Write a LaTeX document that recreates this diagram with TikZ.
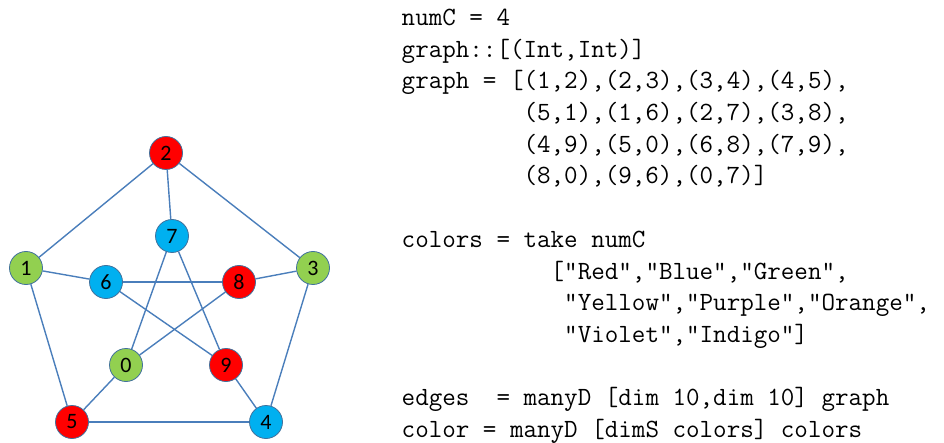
\documentclass[tikz,border=0pt]{standalone}
\usepackage{fontspec}
\newfontfamily\nodefont{Carlito}
\definecolor{edgeblue}{HTML}{4A7EBB}
\definecolor{nodeline}{HTML}{41719C}
\definecolor{vred}{HTML}{FF0000}
\definecolor{vblue}{HTML}{00B0F0}
\definecolor{vgreen}{HTML}{92D050}
\tikzset{
  vtx/.style={circle,draw=nodeline,line width=0.8pt,minimum size=33pt,inner sep=0pt,font=\nodefont\fontsize{22}{26}\selectfont},
  rv/.style={vtx,fill=vred},
  bv/.style={vtx,fill=vblue},
  gv/.style={vtx,fill=vgreen},
  edge/.style={draw=edgeblue,line width=1.4pt},
  codeline/.style={anchor=base west,inner sep=0pt,font=\ttfamily\fontsize{26.3}{31.7}\selectfont}
}
\begin{document}
\begin{tikzpicture}[x=1pt,y=-1pt]
\useasboundingbox (0,0) rectangle (944,443);
% vertices
\node[rv] (n2) at (166,153) {2};
\node[bv] (n7) at (172,236) {7};
\node[gv] (n1) at (26,268) {1};
\node[bv] (n6) at (106,282) {6};
\node[rv] (n8) at (239,282) {8};
\node[gv] (n3) at (313,268) {3};
\node[gv] (n0) at (126,365) {0};
\node[rv] (n9) at (226,365) {9};
\node[rv] (n5) at (72,422) {5};
\node[bv] (n4) at (266,422) {4};
% edges
\draw[edge] (n1) -- (n2);
\draw[edge] (n2) -- (n3);
\draw[edge] (n3) -- (n4);
\draw[edge] (n4) -- (n5);
\draw[edge] (n5) -- (n1);
\draw[edge] (n1) -- (n6);
\draw[edge] (n2) -- (n7);
\draw[edge] (n3) -- (n8);
\draw[edge] (n4) -- (n9);
\draw[edge] (n5) -- (n0);
\draw[edge] (n6) -- (n8);
\draw[edge] (n7) -- (n9);
\draw[edge] (n8) -- (n0);
\draw[edge] (n9) -- (n6);
\draw[edge] (n0) -- (n7);
% code
\node[codeline] (c0) at (401.5,25.5) {numC = 4};
\node[codeline] (c1) at (401.5,57.2) {graph::[(Int,Int)]};
\node[codeline] (c2) at (401.5,88.9) {graph = [(1,2),(2,3),(3,4),(4,5),};
\node[codeline] (c3) at (401.5,120.6) {\ \ \ \ \ \ \ \ \ (5,1),(1,6),(2,7),(3,8),};
\node[codeline] (c4) at (401.5,152.3) {\ \ \ \ \ \ \ \ \ (4,9),(5,0),(6,8),(7,9),};
\node[codeline] (c5) at (401.5,184.0) {\ \ \ \ \ \ \ \ \ (8,0),(9,6),(0,7)]};
\node[codeline] (c7) at (401.5,247.4) {colors = take numC};
\node[codeline] (c8) at (401.5,279.1) {\ \ \ \ \ \ \ \ \ \ \ ["Red","Blue","Green",};
\node[codeline] (c9) at (401.5,310.8) {\ \ \ \ \ \ \ \ \ \ \ \ "Yellow","Purple","Orange",};
\node[codeline] (c10) at (401.5,342.5) {\ \ \ \ \ \ \ \ \ \ \ \ "Violet","Indigo"]};
\node[codeline] (c12) at (401.5,405.9) {edges\ \ = manyD [dim 10,dim 10] graph};
\node[codeline] (c13) at (401.5,437.6) {color = manyD [dimS colors] colors};
\end{tikzpicture}
\end{document}
